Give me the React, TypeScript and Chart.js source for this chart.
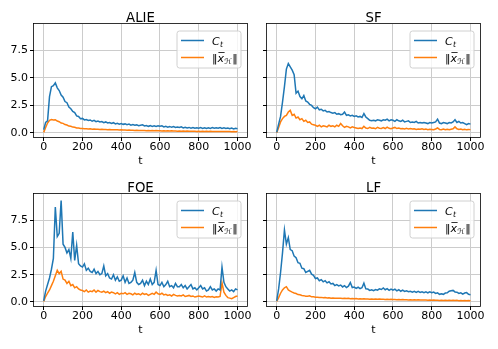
import React, { useEffect, useRef } from 'react';
import { Chart, registerables } from 'chart.js';

Chart.register(...registerables);

// ---------- data ----------
const T = Array.from({ length: 101 }, (_, i) => i * 10);
const X_TICKS = [0, 200, 400, 600, 800, 1000];
const Y_TICKS = [0, 2.5, 5, 7.5];
const TITLES = ['ALIE', 'SF', 'FOE', 'LF'];

const ALIE_CT = [
  0.3, 0.95, 1.1, 3.3, 4.2, 4.3, 4.55, 4.1, 3.85, 3.45,
  3.25, 2.85, 2.75, 2.35, 2.2, 1.95, 1.85, 1.55, 1.5, 1.3,
  1.32, 1.18, 1.22, 1.14, 1.18, 1.06, 1.14, 1.02, 1.08, 1.0,
  1.04, 0.94, 1.0, 0.9, 0.95, 0.86, 0.93, 0.82, 0.88, 0.8,
  0.86, 0.78, 0.82, 0.75, 0.8, 0.7, 0.76, 0.7, 0.73, 0.66,
  0.7, 0.74, 0.63, 0.68, 0.6, 0.66, 0.59, 0.64, 0.58, 0.64,
  0.6, 0.64, 0.55, 0.6, 0.53, 0.59, 0.51, 0.57, 0.49, 0.54,
  0.49, 0.55, 0.46, 0.52, 0.46, 0.5, 0.43, 0.49, 0.42, 0.47,
  0.43, 0.48, 0.41, 0.47, 0.4, 0.46, 0.41, 0.48, 0.42, 0.46,
  0.42, 0.49, 0.41, 0.46, 0.4, 0.45, 0.38, 0.44, 0.37, 0.43,
  0.38,
];
const ALIE_XH = [
  0.05, 0.5, 0.9, 1.15, 1.22, 1.18, 1.2, 1.08, 1.02, 0.9,
  0.87, 0.76, 0.72, 0.62, 0.6, 0.53, 0.51, 0.45, 0.44, 0.4,
  0.41, 0.38, 0.39, 0.36, 0.38, 0.34, 0.36, 0.33, 0.34, 0.32,
  0.33, 0.31, 0.32, 0.3, 0.31, 0.29, 0.3, 0.28, 0.29, 0.27,
  0.28, 0.26, 0.27, 0.25, 0.26, 0.24, 0.25, 0.23, 0.24, 0.22,
  0.23, 0.21, 0.23, 0.2, 0.22, 0.2, 0.21, 0.2, 0.21, 0.19,
  0.2, 0.18, 0.2, 0.18, 0.19, 0.17, 0.19, 0.17, 0.18, 0.16,
  0.18, 0.16, 0.17, 0.15, 0.17, 0.15, 0.16, 0.15, 0.16, 0.14,
  0.16, 0.14, 0.15, 0.13, 0.15, 0.13, 0.15, 0.13, 0.14, 0.13,
  0.14, 0.12, 0.14, 0.12, 0.13, 0.12, 0.13, 0.11, 0.13, 0.11,
  0.12,
];
const SF_CT = [
  0.05, 0.8, 1.5, 2.8, 4.2, 5.8, 6.3, 6.0, 5.7, 5.3,
  3.6, 3.8, 3.3, 3.1, 3.4, 2.9, 2.8, 2.6, 2.5, 2.3,
  2.2, 2.35, 2.1, 2.15, 2.0, 2.05, 1.9, 1.95, 1.85, 1.8,
  1.85, 1.7, 1.75, 1.65, 1.7, 1.9, 1.6, 1.65, 1.55, 1.6,
  1.5, 1.55, 1.45, 1.5, 1.4, 1.75, 1.45, 1.3, 1.15, 1.1,
  1.15, 1.1, 1.2, 1.15, 1.1, 1.2, 1.15, 1.25, 1.1, 1.2,
  1.15, 1.05, 1.2, 1.1, 1.05, 1.15, 1.0, 1.05, 1.1, 0.95,
  1.0, 0.95, 1.05, 0.9, 0.95, 0.9, 0.95, 0.9, 0.85, 0.95,
  0.9, 0.95, 1.0, 1.25, 0.9, 0.85, 0.95, 0.9, 0.85, 0.95,
  0.9, 1.0, 1.2, 0.95, 1.05, 0.9, 0.95, 0.85, 0.75, 0.85,
  0.8,
];
const SF_XH = [
  0.02, 0.5, 1.0, 1.3, 1.5, 1.6, 1.9, 2.05, 1.6, 1.7,
  1.35, 1.45, 1.2, 1.3, 1.05, 1.15, 0.95, 1.0, 0.8, 0.75,
  0.7, 0.6, 0.7, 0.55, 0.65, 0.6, 0.55, 0.7, 0.6, 0.65,
  0.55, 0.7, 0.6, 0.85, 0.65, 0.5, 0.6, 0.55, 0.45, 0.55,
  0.5, 0.45, 0.4, 0.45, 0.4, 0.6, 0.45, 0.4, 0.5, 0.42,
  0.45, 0.38, 0.5, 0.42, 0.4, 0.48, 0.4, 0.52, 0.42, 0.38,
  0.45, 0.5, 0.4, 0.45, 0.38, 0.4, 0.36, 0.42, 0.35, 0.4,
  0.35, 0.38, 0.32, 0.36, 0.33, 0.38, 0.32, 0.35, 0.3, 0.34,
  0.32, 0.3, 0.36, 0.45, 0.32, 0.3, 0.35, 0.3, 0.33, 0.3,
  0.34, 0.38, 0.55, 0.38, 0.32, 0.35, 0.3, 0.33, 0.28, 0.32,
  0.3,
];
const FOE_CT = [
  0.1, 1.0, 1.6, 2.2, 3.0, 4.0, 8.7, 6.0, 6.3, 9.3,
  5.3, 5.0, 4.5, 4.8, 4.0, 6.4, 3.8, 5.2, 3.5, 3.3,
  3.2, 3.5, 2.9, 3.1, 2.8, 2.7, 3.0, 2.6, 2.8, 2.5,
  2.6, 3.3, 2.4, 2.6, 2.2, 2.1, 2.5, 2.0, 2.3, 1.9,
  2.0, 2.4, 1.8, 2.2, 1.7, 1.8, 2.0, 2.7, 1.8, 1.6,
  1.7, 2.0, 1.5, 1.9, 1.6, 2.1, 1.6, 1.8, 2.9, 1.6,
  1.5, 1.8, 1.4, 1.6, 1.9, 1.4, 1.5, 1.3, 1.7, 1.4,
  1.4, 1.6, 1.3, 1.5, 1.2, 1.4, 1.6, 1.2, 1.3, 1.1,
  1.3, 1.5, 1.2, 1.3, 1.0, 1.1, 1.4, 1.1, 1.2, 1.0,
  1.2, 1.1, 3.2, 1.8, 1.4, 1.2, 1.0, 1.1, 0.95, 1.2,
  1.1,
];
const FOE_XH = [
  0.05, 0.5, 0.8, 1.1, 1.5, 1.9, 2.4, 2.9, 2.6, 2.8,
  2.1, 2.0, 1.7, 1.9, 1.5, 1.6, 1.3, 1.4, 1.2, 1.1,
  1.05, 0.95, 1.1, 0.9, 1.0, 0.95, 1.1, 0.9, 1.05, 0.95,
  0.9, 1.0, 0.85, 0.95, 0.8, 0.9, 0.85, 0.75, 0.85, 0.7,
  0.8, 0.75, 0.85, 0.7, 0.8, 0.75, 0.65, 0.8, 0.7, 0.75,
  0.65, 0.8, 0.7, 0.75, 0.6, 0.7, 0.8, 0.7, 0.9, 0.75,
  0.7, 0.8, 0.65, 0.7, 0.6, 0.65, 0.55, 0.7, 0.6, 0.55,
  0.6, 0.55, 0.65, 0.5, 0.55, 0.6, 0.5, 0.55, 0.45, 0.5,
  0.55, 0.5, 0.45, 0.55, 0.45, 0.5, 0.45, 0.5, 0.42, 0.48,
  0.45, 0.5, 1.75, 0.9, 0.6, 0.4, 0.35, 0.3, 0.4, 0.5,
  0.55,
];
const LF_CT = [
  0.1, 1.2, 2.7, 4.5, 6.6, 5.3, 5.9, 4.8, 4.7, 4.2,
  4.05, 3.6, 3.55, 3.1, 3.05, 2.7, 2.8, 2.9, 2.55, 2.45,
  2.15, 2.2, 1.95, 2.05, 1.85, 1.95, 1.75, 1.85, 1.65, 1.7,
  1.5, 1.6, 1.48, 1.55, 1.38, 1.5, 1.32, 1.45, 1.78, 1.32,
  1.36, 1.25, 1.35, 1.22, 1.3, 1.72, 1.2, 1.18, 1.06, 1.12,
  1.04, 1.14, 1.08, 1.2, 1.14, 1.28, 1.12, 1.22, 1.06, 1.18,
  1.08, 1.18, 1.02, 1.12, 0.98, 1.08, 0.96, 1.02, 0.94, 0.98,
  0.9, 0.98, 0.88, 0.97, 0.87, 0.94, 0.86, 0.93, 0.84, 0.92,
  0.84, 0.9, 0.78, 0.84, 0.7, 0.76, 0.7, 0.82, 0.84, 0.98,
  1.02, 1.06, 0.92, 0.9, 0.78, 0.84, 0.72, 0.82, 0.86, 0.7,
  0.66,
];
const LF_XH = [
  0.05, 0.4, 0.8, 1.1, 1.3, 1.4, 1.1, 1.0, 0.9, 0.82,
  0.77, 0.68, 0.66, 0.59, 0.58, 0.53, 0.53, 0.56, 0.47, 0.47,
  0.44, 0.44, 0.41, 0.42, 0.39, 0.4, 0.37, 0.38, 0.35, 0.36,
  0.34, 0.35, 0.33, 0.34, 0.32, 0.33, 0.31, 0.33, 0.3, 0.31,
  0.29, 0.31, 0.28, 0.3, 0.27, 0.29, 0.27, 0.28, 0.26, 0.27,
  0.25, 0.27, 0.24, 0.26, 0.24, 0.25, 0.23, 0.25, 0.22, 0.24,
  0.22, 0.23, 0.21, 0.23, 0.2, 0.22, 0.2, 0.21, 0.19, 0.21,
  0.19, 0.2, 0.18, 0.2, 0.17, 0.19, 0.17, 0.18, 0.16, 0.18,
  0.15, 0.17, 0.15, 0.16, 0.14, 0.16, 0.14, 0.16, 0.14, 0.16,
  0.14, 0.15, 0.13, 0.15, 0.12, 0.14, 0.12, 0.13, 0.11, 0.13,
  0.12,
];

const SERIES_CT = [ALIE_CT, SF_CT, FOE_CT, LF_CT];
const SERIES_XH = [ALIE_XH, SF_XH, FOE_XH, LF_XH];

// ---------- styling / layout ----------
const W = 498;
const H = 349;
const FF = "'DejaVu Sans', 'Liberation Sans', sans-serif";
const BLUE = '#1f77b4';
const ORANGE = '#ff7f0e';
// chart areas [left, top, right, bottom]
const AREAS = [
  [34, 24, 247, 137],
  [267, 24, 480, 137],
  [34, 194, 247, 306],
  [267, 194, 480, 306],
];
const Y_AXIS_W = 30;
const X_AXIS_H = 31;
const FS = 11;

function drawCt(ctx: CanvasRenderingContext2D, x: number, y: number) {
  ctx.font = `italic ${FS}px ${FF}`;
  ctx.fillText('C', x, y);
  const w = ctx.measureText('C').width;
  ctx.font = `italic 7.7px ${FF}`;
  ctx.fillText('t', x + w + 0.3, y + 2.2);
}

function drawXH(ctx: CanvasRenderingContext2D, x: number, y: number) {
  let cx = x;
  ctx.font = `${FS}px ${FF}`;
  ctx.fillText('‖', cx, y);
  cx += ctx.measureText('‖').width;
  ctx.font = `italic ${FS}px ${FF}`;
  ctx.fillText('x', cx, y);
  const xw = ctx.measureText('x').width;
  ctx.fillRect(cx + 0.9, y - 9.4, xw - 0.3, 0.8);
  cx += xw;
  ctx.font = `italic 7.7px ${FF}`;
  ctx.fillText('ℋ', cx + 0.2, y + 2.2);
  cx += ctx.measureText('ℋ').width + 0.6;
  ctx.font = `${FS}px ${FF}`;
  ctx.fillText('‖', cx, y);
}

const decorPlugin = {
  id: 'decor',
  afterDatasetsDraw(chart: any, _args: any, opts: any) {
    const ctx: CanvasRenderingContext2D = chart.ctx;
    const { left, top, right, bottom } = chart.chartArea;
    ctx.save();
    // spines
    ctx.strokeStyle = '#000';
    ctx.lineWidth = 0.8;
    ctx.strokeRect(Math.round(left) - 0.5, Math.round(top) - 0.5, Math.round(right - left) + 1, Math.round(bottom - top) + 1);
    // title
    ctx.fillStyle = '#000';
    ctx.font = `13.3px ${FF}`;
    ctx.textAlign = 'center';
    ctx.textBaseline = 'alphabetic';
    ctx.fillText(opts.title, (left + right) / 2, top - 2);
    // legend
    const bw = 64;
    const bh = 37;
    const bx = right - 6 - bw;
    const by = top + 7;
    ctx.beginPath();
    const r = 2.5;
    ctx.moveTo(bx + r, by);
    ctx.lineTo(bx + bw - r, by);
    ctx.quadraticCurveTo(bx + bw, by, bx + bw, by + r);
    ctx.lineTo(bx + bw, by + bh - r);
    ctx.quadraticCurveTo(bx + bw, by + bh, bx + bw - r, by + bh);
    ctx.lineTo(bx + r, by + bh);
    ctx.quadraticCurveTo(bx, by + bh, bx, by + bh - r);
    ctx.lineTo(bx, by + r);
    ctx.quadraticCurveTo(bx, by, bx + r, by);
    ctx.closePath();
    ctx.fillStyle = 'rgba(255,255,255,0.8)';
    ctx.fill();
    ctx.strokeStyle = '#d0d0d0';
    ctx.lineWidth = 1;
    ctx.stroke();
    const rows = [by + 9.5, by + 26.5];
    const cols = [BLUE, ORANGE];
    ctx.lineWidth = 1.5;
    rows.forEach((ry, i) => {
      ctx.strokeStyle = cols[i];
      ctx.beginPath();
      ctx.moveTo(bx + 4, ry);
      ctx.lineTo(bx + 27, ry);
      ctx.stroke();
    });
    ctx.fillStyle = '#000';
    ctx.textAlign = 'left';
    drawCt(ctx, bx + 35, rows[0] + 4);
    drawXH(ctx, bx + 35, rows[1] + 4);
    ctx.restore();
  },
};

function Panel({ idx }: { idx: number }) {
  const ref = useRef<HTMLCanvasElement>(null);
  useEffect(() => {
    const [l, t, r, b] = AREAS[idx];
    const showY = idx % 2 === 0;
    const tickFont = { family: FF, size: FS };
    const gridOpts = { color: '#cccccc', lineWidth: 1, tickColor: '#000', tickLength: 4, drawTicks: true };
    const chart = new Chart(ref.current as HTMLCanvasElement, {
      type: 'line',
      data: {
        datasets: [
          {
            label: 'C_t',
            data: T.map((x, i) => ({ x, y: SERIES_CT[idx][i] })),
            borderColor: BLUE,
            borderWidth: 1.5,
            pointRadius: 0,
            tension: 0,
            fill: false,
          },
          {
            label: '‖x̄_H‖',
            data: T.map((x, i) => ({ x, y: SERIES_XH[idx][i] })),
            borderColor: ORANGE,
            borderWidth: 1.5,
            pointRadius: 0,
            tension: 0,
            fill: false,
          },
        ],
      },
      options: {
        animation: false,
        responsive: false,
        devicePixelRatio: 1,
        layout: {
          padding: { left: l - Y_AXIS_W, top: t, right: W - r, bottom: H - b - X_AXIS_H },
        },
        plugins: {
          legend: { display: false },
          tooltip: { enabled: false },
          title: { display: false },
          decor: { title: TITLES[idx] },
        } as any,
        scales: {
          x: {
            type: 'linear',
            min: -50,
            max: 1049,
            afterBuildTicks: (s: any) => {
              s.ticks = X_TICKS.map((v) => ({ value: v }));
            },
            afterFit: (s: any) => {
              s.height = X_AXIS_H;
            },
            ticks: {
              font: tickFont,
              color: '#000',
              padding: 0,
              maxRotation: 0,
              autoSkip: false,
              callback: (v: any) => String(v),
            },
            grid: gridOpts,
            border: { display: false },
            title: { display: true, text: 't', font: { family: FF, size: FS }, color: '#000', padding: 0 },
          },
          y: {
            type: 'linear',
            min: -0.37,
            max: 9.9,
            afterBuildTicks: (s: any) => {
              s.ticks = Y_TICKS.map((v) => ({ value: v }));
            },
            afterFit: (s: any) => {
              s.width = Y_AXIS_W;
            },
            ticks: {
              display: showY,
              font: tickFont,
              color: '#000',
              padding: 2,
              callback: (v: any) => Number(v).toFixed(1),
            },
            grid: gridOpts,
            border: { display: false },
          },
        },
      } as any,
      plugins: [decorPlugin as any],
    });
    return () => chart.destroy();
  }, [idx]);
  return (
    <canvas
      ref={ref}
      width={W}
      height={H}
      style={{ position: 'absolute', left: 0, top: 0, width: W, height: H }}
    />
  );
}

export default function App() {
  return (
    <div style={{ position: 'fixed', left: 0, top: 0, width: W, height: H, background: '#fff' }}>
      {[0, 1, 2, 3].map((i) => (
        <Panel key={i} idx={i} />
      ))}
    </div>
  );
}
